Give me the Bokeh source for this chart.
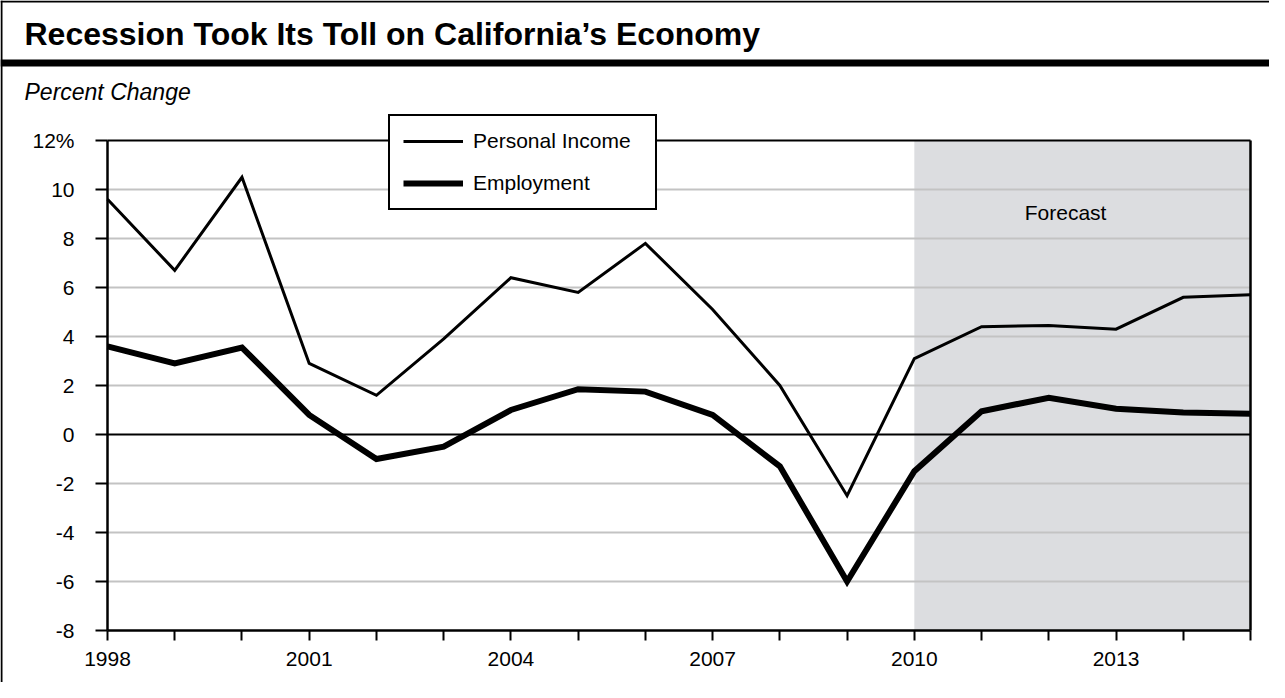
from bokeh.plotting import figure
from bokeh.models import (Range1d, LinearAxis, FixedTicker, Legend, LegendItem,
                          Label, BoxAnnotation)
from bokeh.embed import file_html
from bokeh.resources import INLINE

# ---------------- data ----------------
years = list(range(1998, 2016))
personal_income = [9.6, 6.7, 10.5, 2.9, 1.6, 3.9, 6.4, 5.8, 7.8, 5.1, 2.0, -2.5,
                   3.1, 4.4, 4.45, 4.3, 5.6, 5.7]
employment = [3.6, 2.9, 3.55, 0.8, -1.0, -0.5, 1.0, 1.85, 1.75, 0.8, -1.3, -6.0,
              -1.5, 0.95, 1.5, 1.05, 0.9, 0.85]
y_ticks = [-8, -6, -4, -2, 0, 2, 4, 6, 8, 10, 12]
y_tick_labels = ["-8", "-6", "-4", "-2", "0", "2", "4", "6", "8", "10", "12%"]
grid_values = [-6, -4, -2, 2, 4, 6, 8, 10]
x_labeled = [1998, 2001, 2004, 2007, 2010, 2013]
forecast_start, forecast_end = 2010, 2015
y_min, y_max = -8, 12
x_min, x_max = 1998, 2015

TITLE = "Recession Took Its Toll on California\u2019s Economy"
SUBTITLE = "Percent Change"
FONT = "Liberation Sans"

# ---------------- layout (canvas pixels) ----------------
W, H = 1269, 682
PLOT_LEFT, PLOT_RIGHT, PLOT_TOP, PLOT_BOTTOM = 107, 1250, 140, 630

ppx = (PLOT_RIGHT - PLOT_LEFT) / (x_max - x_min)
ppy = (PLOT_BOTTOM - PLOT_TOP) / (y_max - y_min)
x_range = Range1d(x_min - PLOT_LEFT / ppx, x_max + (W - PLOT_RIGHT) / ppx)
y_range = Range1d(y_min - (H - PLOT_BOTTOM) / ppy, y_max + PLOT_TOP / ppy)

p = figure(width=W, height=H, x_range=x_range, y_range=y_range,
           min_border=0, toolbar_location=None, output_backend="svg",
           x_axis_location=None, y_axis_location=None)
p.grid.visible = False
p.outline_line_color = None
p.background_fill_color = "white"
p.border_fill_color = "white"

# forecast shading
p.quad(left=[forecast_start], right=[forecast_end], bottom=[y_min], top=[y_max],
       fill_color="#dcdde0", line_color=None)

# gridlines
n = len(grid_values)
p.segment(x0=[x_min] * n, y0=grid_values, x1=[x_max] * n, y1=grid_values,
          line_color="#c3c3c3", line_width=2)
# zero line and top frame line
p.segment(x0=[x_min, x_min], y0=[0, y_max], x1=[x_max, x_max], y1=[0, y_max],
          line_color="black", line_width=2)
# right frame line
p.segment(x0=[x_max], y0=[y_min], x1=[x_max], y1=[y_max],
          line_color="black", line_width=2.5)

# data lines
r_pi = p.line(years, personal_income, line_color="black", line_width=3,
              line_join="miter")
r_emp = p.line(years, employment, line_color="black", line_width=6,
               line_join="miter")

# axes
yaxis = LinearAxis(fixed_location=x_min, bounds=(y_min, y_max),
                   ticker=FixedTicker(ticks=y_ticks, minor_ticks=[]),
                   major_label_overrides=dict(zip(y_ticks, y_tick_labels)))
xaxis = LinearAxis(fixed_location=y_min, bounds=(x_min, x_max),
                   ticker=FixedTicker(ticks=years, minor_ticks=[]),
                   major_label_overrides={y: (str(y) if y in x_labeled else "")
                                          for y in years})
for ax in (xaxis, yaxis):
    ax.axis_line_color = "black"
    ax.axis_line_width = 2.5
    ax.major_tick_line_color = "black"
    ax.major_tick_line_width = 2
    ax.major_tick_in = 0
    ax.minor_tick_out = 0
    ax.minor_tick_in = 0
    ax.major_label_text_font = FONT
    ax.major_label_text_font_size = "21px"
    ax.major_label_text_color = "black"
yaxis.major_tick_out = 12
yaxis.major_label_standoff = 21
xaxis.major_tick_out = 10
xaxis.major_label_standoff = 11
p.add_layout(yaxis, "left")
p.add_layout(xaxis, "below")

# legend
legend = Legend(items=[LegendItem(label="Personal Income", renderers=[r_pi]),
                       LegendItem(label="Employment", renderers=[r_emp])],
                location=(388, H - 210), orientation="vertical",
                border_line_color="black", border_line_width=2,
                border_line_alpha=1,
                background_fill_color="white", background_fill_alpha=1,
                padding=13, spacing=18, margin=0,
                glyph_width=60, glyph_height=22, label_height=22,
                label_width=169, label_standoff=10,
                label_text_font=FONT, label_text_font_size="21px",
                label_text_color="black")
p.add_layout(legend)

# forecast label
p.add_layout(Label(x=2012.25, y=9.07, text="Forecast", text_align="center",
                   text_baseline="alphabetic", text_font=FONT,
                   text_font_size="21px", text_color="black"))

# title & subtitle
p.add_layout(Label(x=24, y=H - 33, x_units="screen", y_units="screen",
                   text=TITLE, text_font=FONT, text_font_style="bold",
                   text_font_size="32px", text_color="black",
                   text_baseline="alphabetic"))
p.add_layout(Label(x=24, y=H - 91, x_units="screen", y_units="screen",
                   text=SUBTITLE, text_font=FONT, text_font_style="italic",
                   text_font_size="23px", text_color="black",
                   text_baseline="alphabetic"))

# outer border and title rule
def rule(**kw):
    return BoxAnnotation(fill_color="black", fill_alpha=1, line_color=None,
                         left_units="screen", right_units="screen",
                         top_units="screen", bottom_units="screen", **kw)

p.add_layout(rule(left=0, right=2))                 # left border
p.add_layout(rule(bottom=H - 2, top=H))             # top border
p.add_layout(rule(bottom=H - 66, top=H - 59))       # thick rule under title

open("out.html", "w").write(file_html(p, INLINE))
